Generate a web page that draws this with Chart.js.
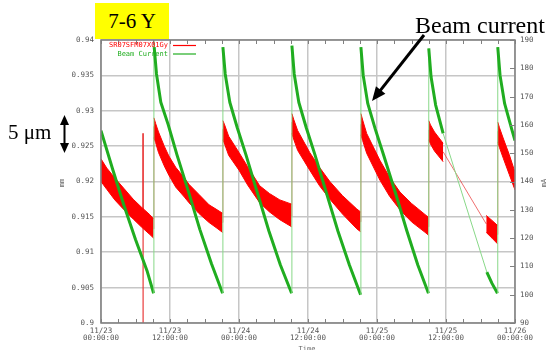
<!DOCTYPE html>
<html>
<head>
<meta charset="utf-8">
<script src="https://cdn.jsdelivr.net/npm/chart.js@4.4.1/dist/chart.umd.min.js"></script>
<style>
  html, body { margin: 0; padding: 0; background: #fff; }
  #wrap { position: relative; width: 550px; height: 350px; overflow: hidden; }
  .note { position: absolute; font-family: 'Liberation Serif', 'Times New Roman', serif; color: #000; white-space: nowrap; }
  #tag { left: 95px; top: 3px; width: 74px; height: 36px; line-height: 36px; background: #ffff00; text-align: center; font-size: 21px; }
  #beam { left: 415px; top: 13px; font-size: 24px; line-height: 24px; }
  #scale5 { left: 8px; top: 122px; font-size: 21px; line-height: 21px; }
</style>
</head>
<body>
<div id="wrap">
  <canvas id="chart" width="550" height="350"></canvas>
  <div class="note" id="tag">7-6 Y</div>
  <div class="note" id="beam">Beam current</div>
  <div class="note" id="scale5">5 μm</div>
</div>
<script>
// ── Data (hours from 11/23 00:00) ─────────────────────────────
// thin parts of the position trace: glitch at ~07:18, refill jumps, data gap
const posHours = [
  7.30, 7.31, 7.32, 7.33, 7.34,
  9.15, 9.2, 9.21,
  21.15, 21.2, 21.21,
  33.15, 33.2, 33.21,
  45.15, 45.2, 45.21,
  56.95, 57.0, 57.01,
  59.5, 67.0, 67.01,
  68.95, 69.0,
];
const posMm = [
  0.9148, 0.9268, 0.8990, 0.9147, null,
  0.9133, 0.9278, null,
  0.9142, 0.9274, null,
  0.9151, 0.9284, null,
  0.9143, 0.9281, null,
  0.9136, 0.9273, null,
  0.9242, 0.9140, null,
  0.9125, 0.9271,
];

// noisy position band: upper / lower edge, null splits the fills
const bandHours = [
  0, 1.0, 2.4, 4.0, 5.6, 7.0, 8.5, 9.15, 9.17,
  9.2, 9.5, 10.0, 11.0, 11.8, 13.0, 14.5, 15.3, 17.0, 18.8, 20.0, 21.15, 21.17,
  21.2, 21.5, 22.2, 24.0, 25.5, 27.6, 29.3, 31.1, 33.15, 33.17,
  33.2, 33.5, 34.2, 36.3, 38.0, 39.8, 42.0, 44.5, 45.15, 45.17,
  45.2, 45.5, 46.2, 48.5, 50.2, 52.0, 54.0, 56.7, 56.95, 56.97,
  57.0, 57.3, 58.0, 59.5, 63.0,
  67.0, 68.0, 68.95, 68.97,
  69.0, 69.3, 70.0, 71.0, 72.0,
];
const bandTop = [
  0.9232, 0.9219, 0.9205, 0.9190, 0.9175, 0.9164, 0.9153, 0.9147, null,
  0.9290, 0.9282, 0.9270, 0.9250, 0.9236, 0.9220, 0.9205, 0.9196, 0.9182, 0.9167, 0.9161, 0.9155, null,
  0.9286, 0.9280, 0.9264, 0.9241, 0.9221, 0.9194, 0.9183, 0.9174, 0.9168, null,
  0.9296, 0.9288, 0.9272, 0.9241, 0.9220, 0.9200, 0.9180, 0.9161, 0.9157, null,
  0.9296, 0.9287, 0.9268, 0.9230, 0.9206, 0.9185, 0.9169, 0.9151, 0.9150, null,
  0.9286, 0.9280, 0.9270, 0.9254, null,
  0.9152, 0.9145, 0.9138, null,
  0.9284, 0.9276, 0.9260, 0.9238, 0.9213,
];
const bandBottom = [
  0.9200, 0.9189, 0.9174, 0.9160, 0.9147, 0.9136, 0.9125, 0.9120, null,
  0.9262, 0.9255, 0.9241, 0.9222, 0.9209, 0.9192, 0.9178, 0.9170, 0.9155, 0.9142, 0.9135, 0.9128, null,
  0.9259, 0.9253, 0.9237, 0.9216, 0.9195, 0.9170, 0.9157, 0.9146, 0.9136, null,
  0.9268, 0.9260, 0.9244, 0.9216, 0.9194, 0.9175, 0.9154, 0.9133, 0.9129, null,
  0.9266, 0.9258, 0.9240, 0.9202, 0.9179, 0.9160, 0.9143, 0.9126, 0.9124, null,
  0.9259, 0.9253, 0.9243, 0.9228, null,
  0.9128, 0.9120, 0.9112, null,
  0.9256, 0.9248, 0.9232, 0.9210, 0.9188,
];

const beamHours = [
  0, 2, 4, 6, 8, 9.15,
  9.2, 9.25, 9.65, 10.4, 11.7, 13.2, 15.2, 17.2, 19.2, 21.15,
  21.2, 21.6, 22.4, 23.7, 25.2, 27.2, 29.2, 31.2, 33.15,
  33.2, 33.6, 34.4, 35.7, 37.2, 39.2, 41.2, 43.2, 45.15,
  45.2, 45.6, 46.4, 47.7, 49.2, 51.2, 53.2, 55.1, 56.95,
  57.0, 57.4, 58.2, 59.5, 67.1, 68.0, 68.95,
  69.0, 69.4, 70.2, 71.5, 72.0,
];
const beamMA = [
  158, 144.5, 131.5, 119.5, 108.5, 100.5,
  191, 187.5, 178, 168, 160, 149.5, 136.5, 123, 111, 100.5,
  187.5, 178, 168, 159, 149.5, 136, 122.5, 110.5, 100.5,
  188, 178, 168, 159, 149.5, 136, 122.5, 110.5, 100,
  187.5, 177.5, 167.5, 158.5, 149, 136, 122.5, 110.5, 100.5,
  187, 177, 167, 157, 108, 104, 100.5,
  187.5, 177.5, 167.5, 158, 154.5,
];

// ── Axes ──────────────────────────────────────────────────────
const leftTicks      = [0.9, 0.905, 0.91, 0.915, 0.92, 0.925, 0.93, 0.935, 0.94];
const leftTickLabels = ['0.9', '0.905', '0.91', '0.915', '0.92', '0.925', '0.93', '0.935', '0.94'];
const rightTicks     = [90, 100, 110, 120, 130, 140, 150, 160, 170, 180, 190];
const xTickHours     = [0, 12, 24, 36, 48, 60, 72];
const xTickLabels    = [
  ['11/23', '00:00:00'], ['11/23', '12:00:00'], ['11/24', '00:00:00'], ['11/24', '12:00:00'],
  ['11/25', '00:00:00'], ['11/25', '12:00:00'], ['11/26', '00:00:00'],
];
const legendLabels = ['SR07SFM07X01Gy', 'Beam Current'];

const RED   = '#ff0000';
const GREEN = '#20ad20';
const GRID  = '#c6c6c6';
const FRAME = '#808080';

Chart.defaults.font.family = 'DejaVu Sans Mono';
Chart.defaults.color = '#555';

// thin joins on the beam trace: refills and the data gap
const thinBeam = (c) => {
  const i = c.p0DataIndex, j = c.p1DataIndex;
  return beamMA[j] > beamMA[i] || beamMA[i] > 189 || beamHours[j] - beamHours[i] > 3;
};

// ── Frame, minor ticks, legend, labels, arrows ────────────────
const arrowHead = (ctx, tx, ty, ang, len, half) => {
  ctx.beginPath();
  ctx.moveTo(tx, ty);
  ctx.lineTo(tx - len * Math.cos(ang) + half * Math.sin(ang), ty - len * Math.sin(ang) - half * Math.cos(ang));
  ctx.lineTo(tx - len * Math.cos(ang) - half * Math.sin(ang), ty - len * Math.sin(ang) + half * Math.cos(ang));
  ctx.closePath();
  ctx.fill();
};

const decor = {
  id: 'decor',
  afterDatasetsDraw(chart) {
    const { ctx, chartArea: a, scales } = chart;
    ctx.save();

    ctx.strokeStyle = FRAME;
    ctx.lineWidth = 1;
    for (let h = 0; h <= 72; h += 3) {
      const x = Math.round(scales.x.getPixelForValue(h)) + 0.5;
      ctx.beginPath();
      ctx.moveTo(x, a.bottom); ctx.lineTo(x, a.bottom - 4);
      ctx.moveTo(x, a.top);    ctx.lineTo(x, a.top + 4);
      ctx.stroke();
    }
    rightTicks.forEach(v => {
      const y = Math.round(scales.y2.getPixelForValue(v)) + 0.5;
      ctx.beginPath();
      ctx.moveTo(a.right, y); ctx.lineTo(a.right - 5, y);
      ctx.stroke();
    });

    ctx.lineWidth = 1.5;
    ctx.strokeRect(a.left, a.top, a.right - a.left, a.bottom - a.top);

    // legend (gnuplot style: text then sample)
    ctx.font = '7px "DejaVu Sans Mono"';
    ctx.textAlign = 'right';
    ctx.textBaseline = 'middle';
    [[RED, 45.5], [GREEN, 54]].forEach(([col, y], k) => {
      ctx.fillStyle = col;
      ctx.fillText(legendLabels[k], 168, y);
      ctx.strokeStyle = col;
      ctx.lineWidth = 1.2;
      ctx.beginPath();
      ctx.moveTo(173, y); ctx.lineTo(196, y);
      ctx.stroke();
    });

    // axis titles
    ctx.fillStyle = '#666';
    ctx.textAlign = 'center';
    ctx.font = '7px "DejaVu Sans Mono"';
    [['mm', 62], ['mA', 544]].forEach(([t, x]) => {
      ctx.save();
      ctx.translate(x, 183);
      ctx.rotate(-Math.PI / 2);
      ctx.fillText(t, 0, 0);
      ctx.restore();
    });
    ctx.textBaseline = 'top';
    ctx.fillText('Time', 307, 346);

    // annotation arrows
    ctx.fillStyle = '#000';
    ctx.strokeStyle = '#000';
    ctx.lineWidth = 2;
    ctx.beginPath();
    ctx.moveTo(64.5, 122); ctx.lineTo(64.5, 146);
    ctx.stroke();
    arrowHead(ctx, 64.5, 115, -Math.PI / 2, 10, 4.5);
    arrowHead(ctx, 64.5, 153, Math.PI / 2, 10, 4.5);

    const ang = Math.atan2(101 - 35, 372 - 424);
    ctx.lineWidth = 3;
    ctx.beginPath();
    ctx.moveTo(424, 35);
    ctx.lineTo(372 - 10 * Math.cos(ang), 101 - 10 * Math.sin(ang));
    ctx.stroke();
    arrowHead(ctx, 372, 101, ang, 14, 6);

    ctx.restore();
  },
};

// ── Chart ─────────────────────────────────────────────────────
const bandLine = (vals) => bandHours.map((h, i) => ({ x: h, y: vals[i] }));

new Chart(document.getElementById('chart'), {
  type: 'line',
  data: {
    datasets: [
      {
        label: legendLabels[1],
        data: beamHours.map((h, i) => ({ x: h, y: beamMA[i] })),
        yAxisID: 'y2',
        order: 0,
        borderColor: GREEN,
        borderWidth: 3,
        borderJoinStyle: 'round',
        pointRadius: 0,
        clip: 0,
        segment: {
          borderWidth: c => thinBeam(c) ? 1 : 3,
          borderColor: c => thinBeam(c) ? '#88d888' : GREEN,
        },
      },
      {
        label: legendLabels[0],
        data: posHours.map((h, i) => ({ x: h, y: posMm[i] })),
        yAxisID: 'y',
        order: 3,
        borderColor: 'rgba(232,50,50,0.7)',
        borderWidth: 1,
        pointRadius: 0,
        spanGaps: false,
        clip: 0,
      },
      {
        label: 'band top',
        data: bandLine(bandTop),
        yAxisID: 'y',
        order: 1,
        borderColor: RED,
        borderWidth: 1,
        pointRadius: 0,
        spanGaps: false,
        fill: false,
        clip: 0,
      },
      {
        label: 'band bottom',
        data: bandLine(bandBottom),
        yAxisID: 'y',
        order: 1,
        borderColor: RED,
        backgroundColor: RED,
        borderWidth: 1,
        pointRadius: 0,
        spanGaps: false,
        fill: 2,
        clip: 0,
      },
    ],
  },
  options: {
    responsive: false,
    animation: false,
    layout: { padding: { top: 40, left: 0, right: 0, bottom: 0 } },
    plugins: { legend: { display: false }, tooltip: { enabled: false } },
    scales: {
      x: {
        type: 'linear',
        min: 0,
        max: 72,
        afterFit: s => { s.height = 27; },
        afterBuildTicks: s => { s.ticks = xTickHours.map(v => ({ value: v })); },
        border: { display: false },
        grid: { color: GRID, lineWidth: 1.5, drawTicks: false },
        ticks: {
          padding: 4,
          maxRotation: 0,
          autoSkip: false,
          font: { size: 7.5, lineHeight: 1 },
          callback: (v, i) => xTickLabels[i],
        },
      },
      y: {
        position: 'left',
        min: 0.9,
        max: 0.94,
        afterFit: s => { s.width = 101; },
        afterBuildTicks: s => { s.ticks = leftTicks.map(v => ({ value: v })); },
        border: { display: false },
        grid: { color: GRID, lineWidth: 1.5, drawTicks: false },
        ticks: {
          padding: 7,
          font: { size: 7.5 },
          callback: (v, i) => leftTickLabels[i],
        },
      },
      y2: {
        position: 'right',
        min: 90,
        max: 190,
        afterFit: s => { s.width = 35; },
        afterBuildTicks: s => { s.ticks = rightTicks.map(v => ({ value: v })); },
        border: { display: false },
        grid: { drawOnChartArea: false, drawTicks: false },
        ticks: {
          padding: 5,
          font: { size: 7.5 },
          callback: v => String(v),
        },
      },
    },
  },
  plugins: [decor],
});
</script>
</body>
</html>
